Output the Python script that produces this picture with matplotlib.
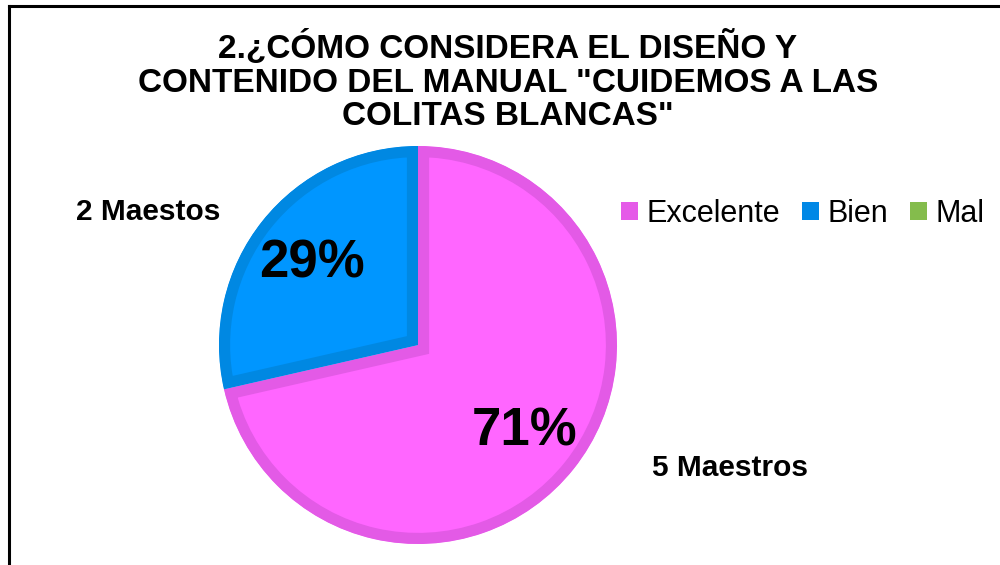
import matplotlib
matplotlib.use("Agg")
import matplotlib.pyplot as plt
from matplotlib.patches import Patch
from matplotlib.lines import Line2D

categories = ["Excelente", "Bien", "Mal"]
values = [5, 2, 0]
pct_labels = ["71%", "29%"]
count_labels = ["5 Maestros", "2 Maestos"]
title = '2.¿CÓMO CONSIDERA EL DISEÑO Y\nCONTENIDO DEL MANUAL "CUIDEMOS A LAS\nCOLITAS BLANCAS"'

fill_colors = ["#ff66ff", "#0096ff", "#84bc4c"]
edge_colors = ["#e35ae6", "#0088e2", "#74a840"]
legend_colors = ["#e55ae8", "#0088e6", "#84bc4c"]

plt.rcParams['font.family'] = ['Liberation Sans', 'DejaVu Sans']

W, H = 1000, 565
fig = plt.figure(figsize=(10, 5.65), dpi=100)
ax = fig.add_axes([0, 0, 1, 1])

def py(y):
    return H - y

wedges, _ = ax.pie(values, colors=fill_colors, startangle=90, counterclock=False,
                   center=(418, py(345)), radius=199, frame=True)
ax.set_xlim(0, W)
ax.set_ylim(0, H)
ax.set_aspect('equal')
ax.axis('off')
for w, ec, v in zip(wedges, edge_colors, values):
    w.set_edgecolor(ec)
    w.set_linewidth(16)
    w.set_clip_path(w)
    w.set_clip_on(True)
    if v == 0:
        w.set_visible(False)

ax.text(312, py(263), pct_labels[1], fontsize=38, fontweight='bold', ha='center', va='center')
ax.text(525, py(432), pct_labels[0], fontsize=38, fontweight='bold', ha='center', va='center')
ax.text(148, py(212), count_labels[1], fontsize=21.5, fontweight='bold', ha='center', va='center')
ax.text(730, py(468), count_labels[0], fontsize=21.5, fontweight='bold', ha='center', va='center')

fig.text(0.508, py(81) / H, title, fontsize=24, fontweight='bold', ha='center', va='center',
         linespacing=1.1)

handles = [Patch(facecolor=c, edgecolor='none') for c in legend_colors]
fig.legend(handles, categories, loc='center left', bbox_to_anchor=(621 / W, py(214) / H),
           ncol=3, frameon=False, fontsize=22, handlelength=0.55, handleheight=0.55,
           handletextpad=0.28, columnspacing=0.72, borderpad=0, borderaxespad=0)

fig.add_artist(Line2D([9 / W, 9 / W], [0, py(6) / H], color='black', lw=2.2, transform=fig.transFigure))
fig.add_artist(Line2D([9 / W, 1], [py(6) / H, py(6) / H], color='black', lw=2.2, transform=fig.transFigure))

fig.savefig("out.png", dpi=100)
